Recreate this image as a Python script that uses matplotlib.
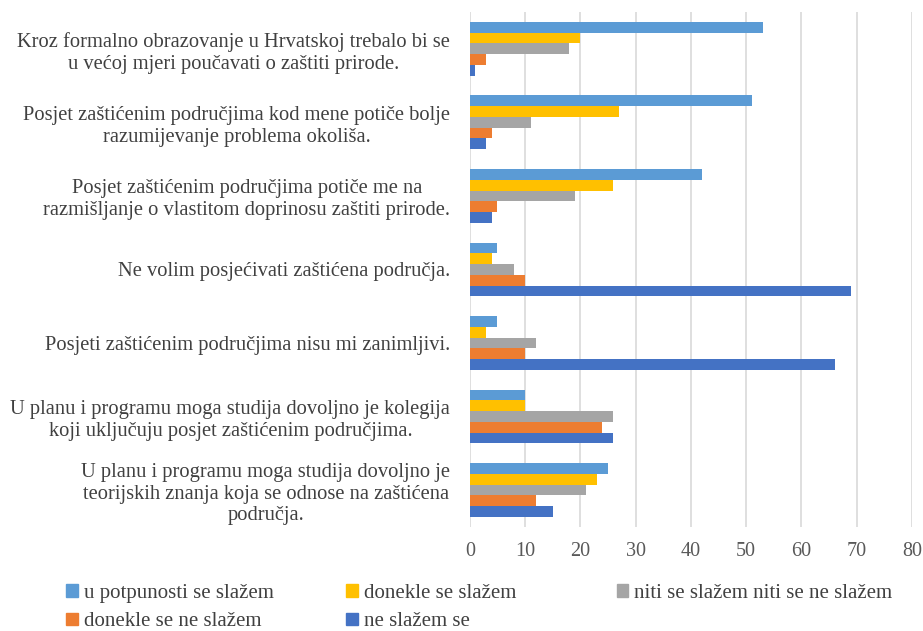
import matplotlib.pyplot as plt
from matplotlib.patches import Patch
import numpy as np

plt.rcParams['font.family'] = ['Liberation Serif', 'DejaVu Serif']

categories = [
    "Kroz formalno obrazovanje u Hrvatskoj trebalo bi se\nu većoj mjeri poučavati o zaštiti prirode.",
    "Posjet zaštićenim područjima kod mene potiče bolje\nrazumijevanje problema okoliša.",
    "Posjet zaštićenim područjima potiče me na\nrazmišljanje o vlastitom doprinosu zaštiti prirode.",
    "Ne volim posjećivati zaštićena područja.",
    "Posjeti zaštićenim područjima nisu mi zanimljivi.",
    "U planu i programu moga studija dovoljno je kolegija\nkoji uključuju posjet zaštićenim područjima.",
    "U planu i programu moga studija dovoljno je\nteorijskih znanja koja se odnose na zaštićena\npodručja.",
]
series_names = [
    "u potpunosti se slažem",
    "donekle se slažem",
    "niti se slažem niti se ne slažem",
    "donekle se ne slažem",
    "ne slažem se",
]
u_potpunosti = [53, 51, 42, 5, 5, 10, 25]
donekle_da = [20, 27, 26, 4, 3, 10, 23]
niti = [18, 11, 19, 8, 12, 26, 21]
donekle_ne = [3, 4, 5, 10, 10, 24, 12]
ne_slazem = [1, 3, 4, 69, 66, 26, 15]
colors = ['#5B9BD5', '#FFC000', '#A5A5A5', '#ED7D31', '#4472C4']

values = [u_potpunosti, donekle_da, niti, donekle_ne, ne_slazem]

fig = plt.figure(figsize=(9.23, 6.31), dpi=100)
ax = fig.add_axes([0.509, 0.165, 0.479, 0.816])

y = np.arange(len(categories))
h = 0.146
for i, (vals, c) in enumerate(zip(values, colors)):
    ax.barh(y + (i - 2) * h, vals, height=h, color=c, label=series_names[i], zorder=3)

ax.set_ylim(len(categories) - 0.5, -0.5)
ax.set_xlim(0, 80)
ax.set_xticks(range(0, 81, 10))
ax.set_yticks(y)
ax.set_yticklabels(categories, multialignment='center', fontsize=14.75)
ax.tick_params(axis='x', labelsize=14.5, length=0, pad=11, colors='#595959')
ax.tick_params(axis='y', length=0, pad=14, labelcolor='#404040')
ax.grid(axis='x', color='#D9D9D9', linewidth=1.2, zorder=0)
for s in ax.spines.values():
    s.set_visible(False)

handles = [Patch(color=c) for c in colors]
cols = [[0, 3], [1, 4], [2]]
xs = [0.063, 0.366, 0.659]
for idx, x0 in zip(cols, xs):
    fig.legend([handles[k] for k in idx], [series_names[k] for k in idx],
               loc='upper left', bbox_to_anchor=(x0, 0.088), frameon=False,
               fontsize=15, handlelength=0.55, handleheight=0.55,
               handletextpad=0.3, labelspacing=0.45, borderaxespad=0,
               labelcolor='#404040')

fig.savefig('out.png', dpi=100)
